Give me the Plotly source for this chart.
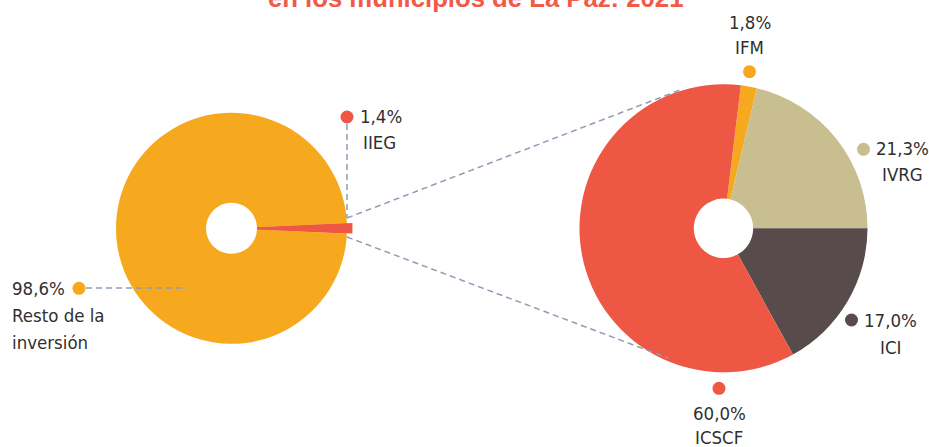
import plotly.graph_objects as go

W, H = 929, 447

title_text = "en los municipios de La Paz: 2021"

left_labels = ["IIEG", "Resto de la", "inversión"]
left_values = [1.4, 98.6]
left_colors = ["#EE5744", "#F6A81F"]

right_labels = ["IFM", "IVRG", "ICI", "ICSCF"]
right_values = [1.8, 21.3, 17.0, 60.0]
right_colors = ["#F6A81F", "#C9BE8F", "#574B4B", "#EE5744"]

LINE_COLOR = "#8E9DB5"
TEXT_COLOR = "#2F2F2F"
LABEL_FONT = "Liberation Sans Narrow, DejaVu Sans Condensed, Arial Narrow, sans-serif"
LABEL_SIZE = 18.5


def px(x):
    return x / W


def py(y):
    return 1 - y / H


def dom(cx, cy, r):
    return dict(x=[px(cx - r), px(cx + r)], y=[py(cy + r), py(cy - r)])


def pct(v):
    return f"{v:.1f}".replace(".", ",") + "%"


# geometry (pixels)
LC, LR, LHOLE, LPOP = (231.5, 228.3), 115.5, 25.5, 121.0
RC, RR, RHOLE = (723.5, 228.3), 144.0, 29.7

lsum = sum(left_values)
left_rot = 90 - left_values[0] / lsum * 360 / 2
rsum = sum(right_values)
right_rot = 90 - (right_values[0] + right_values[1]) / rsum * 360

fig = go.Figure()
fig.add_trace(go.Pie(
    values=left_values, labels=["IIEG", "Resto de la inversión"], sort=False,
    direction="clockwise", rotation=left_rot, hole=LHOLE / LR, domain=dom(*LC, LR),
    marker=dict(colors=left_colors, line=dict(width=0)),
    textinfo="none", hoverinfo="skip", showlegend=False,
))
fig.add_trace(go.Pie(
    values=left_values, labels=["IIEG", "Resto de la inversión"], sort=False,
    direction="clockwise", rotation=left_rot, hole=LHOLE / LPOP, domain=dom(*LC, LPOP),
    marker=dict(colors=[left_colors[0], "rgba(0,0,0,0)"], line=dict(width=0)),
    textinfo="none", hoverinfo="skip", showlegend=False,
))
fig.add_trace(go.Pie(
    values=right_values, labels=right_labels, sort=False, direction="clockwise",
    rotation=right_rot, hole=RHOLE / RR, domain=dom(*RC, RR),
    marker=dict(colors=right_colors, line=dict(width=0)),
    textinfo="none", hoverinfo="skip", showlegend=False,
))

shapes = []


def dline(x0, y0, x1, y1):
    shapes.append(dict(type="line", xref="paper", yref="paper",
                       x0=px(x0), y0=py(y0), x1=px(x1), y1=py(y1),
                       line=dict(color=LINE_COLOR, width=1.5, dash="6px,4px")))


def dot(x, y, color, r=6.5):
    shapes.append(dict(type="circle", xref="paper", yref="paper",
                       x0=px(x - r), x1=px(x + r), y0=py(y + r), y1=py(y - r),
                       fillcolor=color, line=dict(width=0)))


# connectors
dline(347, 124, 347, 218)
dline(347, 218, 680, 90)
dline(347, 237, 668, 358)
dline(86, 288, 187, 288)

# dots
dot(347, 117, left_colors[0])
dot(79, 288.3, left_colors[1])
dot(749.5, 71.7, right_colors[0])
dot(863.5, 149.3, right_colors[1])
dot(851.5, 320, right_colors[2])
dot(719, 388.3, right_colors[3])

annotations = []


def label(x, y, text, xanchor="center"):
    annotations.append(dict(xref="paper", yref="paper", x=px(x), y=py(y),
                            text=text, showarrow=False, xanchor=xanchor,
                            yanchor="middle",
                            font=dict(family=LABEL_FONT, size=LABEL_SIZE, color=TEXT_COLOR)))


label(381, 117, pct(left_values[0]))
label(379, 143, left_labels[0])
label(10, 288, pct(left_values[1]), xanchor="left")
label(10, 315, left_labels[1], xanchor="left")
label(10, 342, left_labels[2], xanchor="left")
label(749.5, 22.5, pct(right_values[0]))
label(749.5, 48, right_labels[0])
label(902.5, 149, pct(right_values[1]))
label(902.5, 174, right_labels[1])
label(890, 320, pct(right_values[2]))
label(890, 347, right_labels[2])
label(719, 413, pct(right_values[3]))
label(719, 437.5, right_labels[3])

annotations.append(dict(xref="paper", yref="paper", x=px(476), y=py(-2),
                        text="<b>" + title_text + "</b>", showarrow=False,
                        xanchor="center", yanchor="middle",
                        font=dict(family="Liberation Sans, Arial, sans-serif",
                                  size=25.7, color="#F05A47")))

fig.update_layout(
    width=W, height=H, margin=dict(l=0, r=0, t=0, b=0),
    paper_bgcolor="white", plot_bgcolor="white",
    shapes=shapes, annotations=annotations, showlegend=False,
)

fig.write_html("out.html", config={"displayModeBar": False},
               post_script="document.body.style.margin='0';")
